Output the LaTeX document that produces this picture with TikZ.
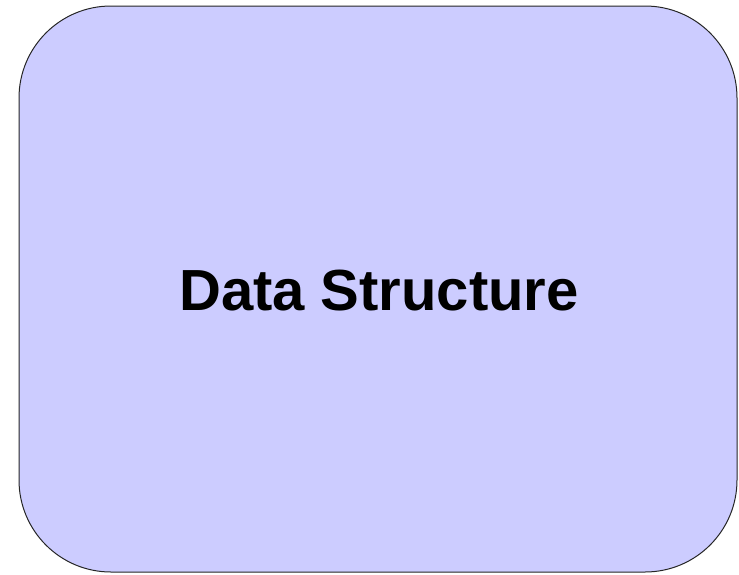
\documentclass[tikz,border=0pt]{standalone}
\usepackage{fontspec}
\setmainfont{Liberation Sans}
\begin{document}
\begin{tikzpicture}[x=1pt,y=-1pt,
  panel/.style={draw=black!85, line width=1pt, fill={rgb,255:red,204;green,204;blue,255}, rounded corners=92pt},
  title/.style={font=\bfseries\fontsize{58}{60}\selectfont, text=black, inner sep=0pt}]
  \useasboundingbox (0,0) rectangle (739,574);
  \draw[panel] (19,6) rectangle (737,572);
  \node[title, anchor=base] (label) at (379,310) {Data Structure};
\end{tikzpicture}
\end{document}
